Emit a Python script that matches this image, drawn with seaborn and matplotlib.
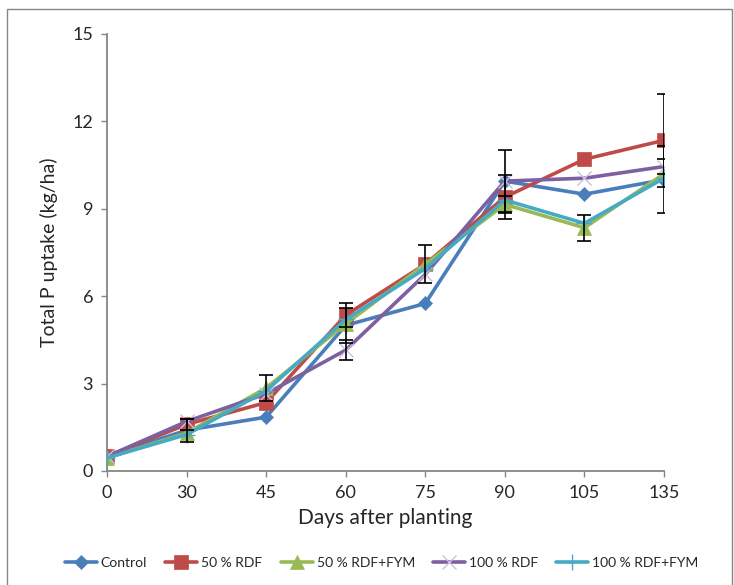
import pandas as pd
import matplotlib.pyplot as plt
import seaborn as sns
from matplotlib.patches import Rectangle

days = ['0', '30', '45', '60', '75', '90', '105', '135']
series = ['Control', '50 % RDF', '50 % RDF+FYM', '100 % RDF', '100 % RDF+FYM']

control = [0.5, 1.4, 1.85, 5.0, 5.75, 9.95, 9.5, 10.0]
rdf50 = [0.5, 1.6, 2.35, 5.35, 7.1, 9.4, 10.7, 11.35]
rdf50_fym = [0.45, 1.3, 2.85, 5.05, 7.1, 9.15, 8.35, 10.2]
rdf100 = [0.5, 1.7, 2.65, 4.15, 6.75, 9.95, 10.05, 10.45]
rdf100_fym = [0.45, 1.25, 2.75, 5.2, 6.95, 9.3, 8.5, 10.05]

control_err = [0, 0.4, 0, 0.6, 0, 1.07, 0, 1.15]
rdf50_err = [0, 0.2, 0, 0.4, 0.65, 0.76, 0, 1.6]
rdf50_fym_err = [0, 0, 0.45, 0, 0, 0.3, 0.45, 0]
rdf100_err = [0, 0, 0, 0.35, 0, 0, 0, 0.25]
rdf100_fym_err = [0, 0, 0, 0, 0, 0, 0, 0]

values = [control, rdf50, rdf50_fym, rdf100, rdf100_fym]
errors = [control_err, rdf50_err, rdf50_fym_err, rdf100_err, rdf100_fym_err]
colors = ['#4A7EBB', '#BE4B48', '#98B954', '#7D60A0', '#46AAC5']
edge_colors = ['#4A7EBB', '#BE4B48', '#98B954', '#CBC0DE', '#46AAC5']
markers = ['D', 's', '^', 'x', '+']
msizes = [7, 10, 10, 10, 11]

rows = []
for name, vals in zip(series, values):
    for i, v in enumerate(vals):
        rows.append({'pos': i, 'uptake': v, 'treatment': name})
df = pd.DataFrame(rows)

sns.set_style('white')
plt.rcParams['font.family'] = ['Lato', 'DejaVu Sans']

fig = plt.figure(figsize=(7.34, 5.85), dpi=100)
ax = fig.add_axes([0.1458, 0.1949, 0.7588, 0.747])

for name, vals, err, c, ec, m, ms in zip(series, values, errors, colors, edge_colors, markers, msizes):
    sub = df[df['treatment'] == name]
    sns.lineplot(data=sub, x='pos', y='uptake', color=c, marker=m, markersize=ms,
                 markeredgecolor=ec, markeredgewidth=1.0 if m in ('x', '+') else 0.5,
                 linewidth=2.6, ax=ax, label=name, zorder=3)
    idx = [i for i, e in enumerate(err) if e > 0]
    if idx:
        ax.errorbar(idx, [vals[i] for i in idx], yerr=[err[i] for i in idx],
                    fmt='none', ecolor='black', elinewidth=1.2, capsize=5, capthick=1.2, zorder=4)

ax.set_xlim(0, len(days) - 1)
ax.set_ylim(0, 15)
ax.set_xticks(range(len(days)))
ax.set_xticklabels(days)
ax.set_yticks([0, 3, 6, 9, 12, 15])
ax.tick_params(axis='both', direction='out', length=4, width=1, color='#868686',
               labelsize=13, pad=6, left=True, bottom=True)
for s in ['top', 'right']:
    ax.spines[s].set_visible(False)
for s in ['left', 'bottom']:
    ax.spines[s].set_color('#868686')
    ax.spines[s].set_linewidth(1.3)
ax.set_xlabel('Days after planting', fontsize=15, labelpad=5)
ax.set_ylabel('Total P uptake (kg/ha)', fontsize=14, labelpad=10)
ax.grid(False)

handles, labels = ax.get_legend_handles_labels()
ax.legend(handles[:5], labels[:5], loc='center', bbox_to_anchor=(0.52, 0.037),
          bbox_transform=fig.transFigure, ncol=5, frameon=False, fontsize=10,
          handlelength=2.3, columnspacing=1.3, handletextpad=0.3)

fig.patches.append(Rectangle((0.0095, -0.01), 0.988, 0.995, transform=fig.transFigure,
                             fill=False, edgecolor='#868686', linewidth=1))

plt.savefig('out.png', dpi=100)
